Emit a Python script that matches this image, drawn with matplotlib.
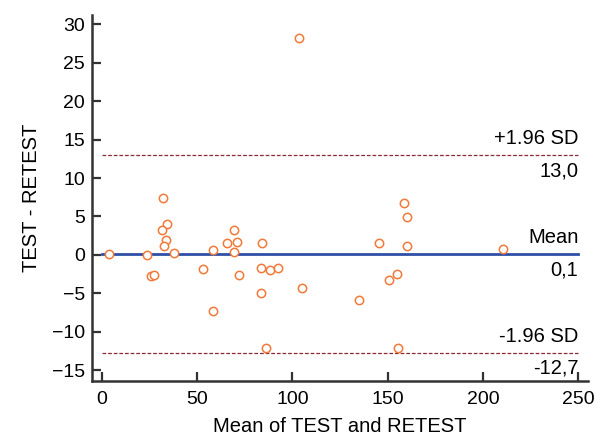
import matplotlib
matplotlib.use('Agg')
import matplotlib.pyplot as plt

plt.rcParams['font.family'] = ['Liberation Sans', 'DejaVu Sans']

# mean of TEST and RETEST, difference TEST - RETEST
mean_vals = [3.8, 23.9, 32.0, 34.1, 31.5, 33.7, 32.7, 37.9, 25.7, 27.4,
             53.0, 58.6, 58.2, 65.6, 69.4, 71.2, 69.4, 72.2, 83.9, 83.4,
             88.3, 92.7, 83.4, 86.2, 105.2, 158.4, 160.0, 145.5, 160.0, 210.2,
             154.8, 150.4, 134.8, 155.6, 103.7]
diff_vals = [0.1, 0.0, 7.45, 4.0, 3.2, 1.9, 1.2, 0.25, -2.8, -2.6,
             -1.8, -7.3, 0.7, 1.6, 3.3, 1.7, 0.4, -2.65, 1.6, -1.7,
             -1.9, -1.7, -4.9, -12.05, -4.35, 6.7, 4.9, 1.6, 1.1, 0.8,
             -2.5, -3.3, -5.8, -12.05, 28.2]

mean_diff = 0.1
upper_loa = 13.0
lower_loa = -12.7
x_range = [0, 250]

fig = plt.figure(figsize=(6, 4.4), dpi=100)
ax = fig.add_axes([0.1533, 0.134, 0.8267, 0.832])

ax.plot(x_range, [upper_loa, upper_loa], color='#8b2a35', lw=0.9, ls=(0, (3, 1.5)))
ax.plot(x_range, [lower_loa, lower_loa], color='#8b2a35', lw=0.9, ls=(0, (3, 1.5)))
ax.plot(x_range, [mean_diff, mean_diff], color='#2f4fa8', lw=2.0)

ax.plot(mean_vals, diff_vals, 'o', ms=6, mfc='white', mec='#f07a3a', mew=1.1, ls='none')

fs = 14.5
up, dn = 0.9, 0.8
ax.text(x_range[1], upper_loa + up, '+1.96 SD', ha='right', va='bottom', fontsize=fs)
ax.text(x_range[1], upper_loa - dn, '13,0', ha='right', va='top', fontsize=fs)
ax.text(x_range[1], mean_diff + up, 'Mean', ha='right', va='bottom', fontsize=fs)
ax.text(x_range[1], mean_diff - dn, '0,1', ha='right', va='top', fontsize=fs)
ax.text(x_range[1], lower_loa + up, '-1.96 SD', ha='right', va='bottom', fontsize=fs)
ax.text(x_range[1], lower_loa - dn, '-12,7', ha='right', va='top', fontsize=fs)

ax.set_xlim(-5.1, 255)
ax.set_ylim(-16.4, 31.2)
ax.set_xticks([0, 50, 100, 150, 200, 250])
ax.set_yticks([-15, -10, -5, 0, 5, 10, 15, 20, 25, 30])

for s in ['top', 'right']:
    ax.spines[s].set_visible(False)
for s in ['left', 'bottom']:
    ax.spines[s].set_color('#333333')
    ax.spines[s].set_linewidth(1.8)
ax.tick_params(direction='in', length=6.5, width=1.6, color='#333333', labelsize=14, pad=5)
ax.tick_params(axis='x', pad=7)

ax.set_xlabel('Mean of TEST and RETEST', fontsize=14.5, labelpad=7)
ax.set_ylabel('TEST - RETEST', fontsize=14.5, labelpad=8)

fig.savefig('out.png', dpi=100)
